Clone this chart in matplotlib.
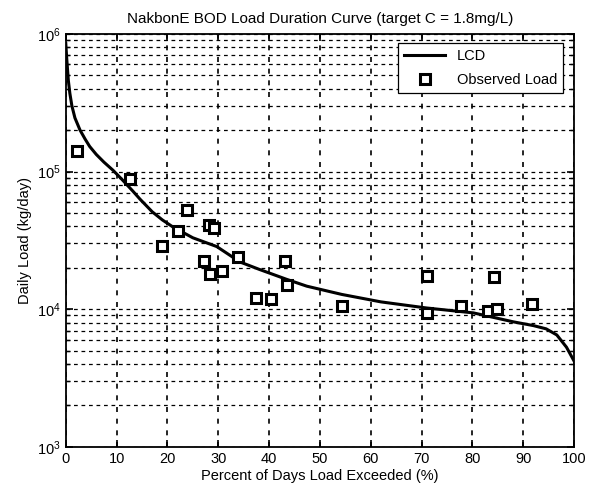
import matplotlib
matplotlib.use('Agg')
import matplotlib.pyplot as plt
from matplotlib.ticker import LogLocator, NullFormatter, MultipleLocator

plt.rcParams['font.family'] = ['Liberation Sans', 'DejaVu Sans']

# load duration curve
lcd_pct = [0, 0.2, 0.5, 0.8, 1.2, 1.8, 2.8, 3.8, 4.7, 6, 7.5, 9.3, 11, 13.2, 14.6,
           17, 19, 21.1, 25, 29.7, 34.3, 38, 43.4, 47.4, 54.3, 62, 71, 80.2, 88,
           92, 94.5, 96.6, 98.5, 100]
lcd_load = [8.5e5, 6.5e5, 4.6e5, 3.7e5, 3.0e5, 2.45e5, 2.0e5, 1.72e5, 1.52e5,
            1.33e5, 1.17e5, 1.02e5, 8.8e4, 7.2e4, 6.3e4, 5.1e4, 4.45e4, 3.95e4,
            3.3e4, 2.85e4, 2.2e4, 1.95e4, 1.65e4, 1.47e4, 1.28e4, 1.13e4, 1.02e4,
            9.4e3, 8.1e3, 7.6e3, 7.2e3, 6.5e3, 5.3e3, 4.2e3]

# observed loads
obs_pct = [2.3, 12.6, 19.0, 22.1, 23.8, 27.2, 28.2, 28.3, 29.2, 30.8, 33.9, 37.4,
           40.3, 43.1, 43.6, 54.3, 71.0, 71.1, 77.8, 83.1, 84.3, 84.8, 91.7]
obs_load = [1.41e5, 8.85e4, 2.88e4, 3.7e4, 5.25e4, 2.24e4, 4.1e4, 1.79e4, 3.92e4,
            1.89e4, 2.4e4, 1.21e4, 1.19e4, 2.24e4, 1.51e4, 1.06e4, 1.74e4, 9.4e3,
            1.06e4, 9.7e3, 1.71e4, 9.95e3, 1.09e4]

fig = plt.figure(figsize=(5.98, 4.90), dpi=100)
ax = fig.add_axes([0.110, 0.088, 0.850, 0.843])
ax.set_yscale('log')

ax.plot(lcd_pct, lcd_load, color='black', lw=2.2, label='LCD', zorder=3)
ax.plot(obs_pct, obs_load, 's', ms=7.5, mfc='white', mec='black', mew=2.2,
        ls='none', label='Observed Load', zorder=4)

ax.set_xlim(0, 100)
ax.set_ylim(1e3, 1e6)
ax.xaxis.set_major_locator(MultipleLocator(10))
ax.yaxis.set_major_locator(LogLocator(base=10))
ax.yaxis.set_minor_locator(LogLocator(base=10, subs=range(2, 10)))
ax.yaxis.set_minor_formatter(NullFormatter())

# MATLAB-style dashed grid
dash = (0, (3, 3))
ax.grid(True, axis='y', which='both', color='black', ls=dash, lw=0.9)
ax.grid(True, axis='x', which='major', color='black', ls=(0, (3, 4)), lw=1.2)
ax.set_axisbelow(True)
ax.tick_params(which='both', direction='in', top=True, right=True,
               labelsize=10.5, colors='black')
ax.tick_params(which='major', length=5, width=1.2)
ax.tick_params(which='minor', length=3, width=1)
for s in ax.spines.values():
    s.set_linewidth(1.3)

ax.set_title('NakbonE BOD Load Duration Curve (target C = 1.8mg/L)', fontsize=11, pad=8)
ax.set_xlabel('Percent of Days Load Exceeded (%)', fontsize=10.5, labelpad=2)
ax.set_ylabel('Daily Load (kg/day)', fontsize=10.5, labelpad=4)

leg = ax.legend(loc='upper right', bbox_to_anchor=(0.978, 0.978), fontsize=10.5,
                fancybox=False, framealpha=1, edgecolor='black',
                borderaxespad=0, handlelength=2.8, labelspacing=0.7)
leg.get_frame().set_linewidth(0.9)

fig.savefig('out.png', dpi=100)
